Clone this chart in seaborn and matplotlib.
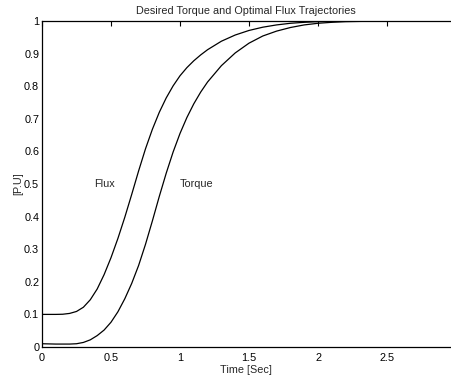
import matplotlib
matplotlib.use("Agg")
import matplotlib.pyplot as plt
import seaborn as sns
import pandas as pd

time_s = [0, 0.1, 0.15, 0.2, 0.25, 0.3, 0.35, 0.4, 0.45, 0.5, 0.55, 0.6, 0.65, 0.7,
          0.75, 0.8, 0.85, 0.9, 0.95, 1.0, 1.05, 1.1, 1.15, 1.2, 1.3, 1.4, 1.5, 1.6,
          1.7, 1.8, 1.9, 2.0, 2.1, 2.2, 2.4, 2.6, 2.97]
flux = [0.100, 0.100, 0.1005, 0.103, 0.109, 0.122, 0.145, 0.178, 0.222, 0.274, 0.333,
        0.398, 0.468, 0.540, 0.608, 0.668, 0.720, 0.764, 0.801, 0.832, 0.857, 0.878,
        0.896, 0.912, 0.938, 0.957, 0.971, 0.981, 0.988, 0.993, 0.996, 0.998, 0.999,
        0.9995, 1.000, 1.000, 1.000]
torque = [0.010, 0.009, 0.009, 0.009, 0.010, 0.014, 0.022, 0.035, 0.052, 0.076, 0.108,
          0.148, 0.195, 0.250, 0.315, 0.387, 0.462, 0.533, 0.598, 0.655, 0.704, 0.746,
          0.782, 0.813, 0.863, 0.902, 0.932, 0.954, 0.969, 0.980, 0.988, 0.993, 0.996,
          0.998, 0.9995, 1.000, 1.000]

title = "Desired Torque and Optimal Flux Trajectories"
xlabel = "Time [Sec]"
ylabel = "[P.U]"
xticks = [0, 0.5, 1, 1.5, 2, 2.5]
xticklabels = ["0", "0.5", "1", "1.5", "2", "2.5"]
yticks = [0, 0.1, 0.2, 0.3, 0.4, 0.5, 0.6, 0.7, 0.8, 0.9, 1]
yticklabels = ["0", "0.1", "0.2", "0.3", "0.4", "0.5", "0.6", "0.7", "0.8", "0.9", "1"]

sns.set_style("white")
plt.rcParams['font.family'] = ['Liberation Sans', 'DejaVu Sans']
plt.rcParams['xtick.direction'] = 'in'
plt.rcParams['ytick.direction'] = 'in'

df = pd.DataFrame({"t": time_s + time_s,
                   "v": flux + torque,
                   "s": ["Flux"] * len(time_s) + ["Torque"] * len(time_s)})

fig = plt.figure(figsize=(4.51, 3.78), dpi=100)
W, H = 451, 378
ax = fig.add_axes([42 / W, (H - 347) / H, (450 - 42) / W, (347 - 21) / H])
sns.lineplot(data=df, x="t", y="v", units="s", estimator=None, color="black",
             linewidth=0.9, ax=ax, legend=False)

ax.set_xlim(0, (450 - 42) / 138)
ax.set_ylim(0, 1)
ax.set_xticks(xticks)
ax.set_xticklabels(xticklabels)
ax.set_yticks(yticks)
ax.set_yticklabels(yticklabels)
ax.tick_params(axis='both', labelsize=7.8, length=3.5, width=0.8, pad=2,
               top=True, colors='black')
ax.tick_params(axis='x', pad=4)
for side in ['left', 'bottom', 'top']:
    ax.spines[side].set_color('black')
    ax.spines[side].set_linewidth(0.9)
ax.spines['right'].set_visible(False)

ax.set_title(title, fontsize=7.8, pad=5)
ax.set_xlabel(xlabel, fontsize=7.8, labelpad=1.5)
ax.set_ylabel(ylabel, fontsize=7.8, labelpad=0.5)

ax.text(0.38, 0.5, "Flux", fontsize=7.8, va="center", ha="left")
ax.text(1.0, 0.5, "Torque", fontsize=7.8, va="center", ha="left")

fig.savefig("out.png", dpi=100)
